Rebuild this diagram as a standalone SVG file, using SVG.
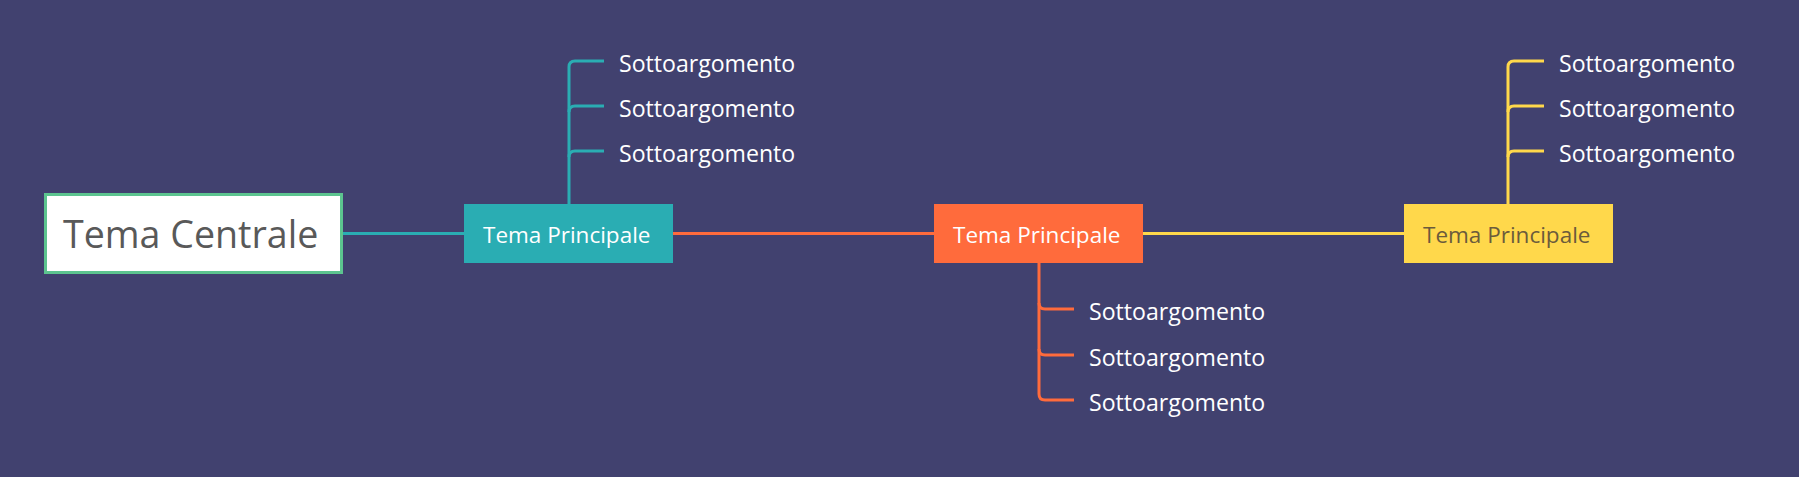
<svg xmlns="http://www.w3.org/2000/svg" width="1799" height="477" viewBox="0 0 1799 477">
<style>
.bg{fill:#41416f}
.ln{fill:none;stroke-width:3}
.teal{stroke:#2aadb3}
.orange{stroke:#ff6b3c}
.yellow{stroke:#ffd84b}
.main{font-family:"Open Sans","Noto Sans",sans-serif;font-size:22.5px}
.sub{font-family:"Open Sans","Noto Sans",sans-serif;font-size:23.1px;fill:#ffffff}
.center{font-family:"Open Sans","Noto Sans",sans-serif;font-size:37.6px;fill:#595959}
</style>
<rect class="bg" x="0" y="0" width="1799" height="477"/>
<g id="connectors">
<path class="ln teal" d="M343,233.5 H464"/>
<path class="ln orange" d="M673,233.5 H934"/>
<path class="ln yellow" d="M1143,233.5 H1404"/>
<path class="ln teal" d="M569,204 V67 Q569,61 575,61 H604"/>
<path class="ln teal" d="M569,112 Q569,106 575,106 H604"/>
<path class="ln teal" d="M569,157 Q569,151 575,151 H604"/>
<path class="ln orange" d="M1039,263 V394 Q1039,400 1045,400 H1074"/>
<path class="ln orange" d="M1039,303 Q1039,309 1045,309 H1074"/>
<path class="ln orange" d="M1039,349 Q1039,355 1045,355 H1074"/>
<path class="ln yellow" d="M1508,204 V67 Q1508,61 1514,61 H1544"/>
<path class="ln yellow" d="M1508,112 Q1508,106 1514,106 H1544"/>
<path class="ln yellow" d="M1508,157 Q1508,151 1514,151 H1544"/>
</g>
<g id="central">
<rect x="45.5" y="194.5" width="296" height="78" fill="#ffffff" stroke="#5cc48f" stroke-width="3"/>
<text class="center" x="63" y="247.5">Tema Centrale</text>
</g>
<g id="main1">
<rect x="464" y="204" width="209" height="59" fill="#2aadb3"/>
<text class="main" x="483" y="243" fill="#ffffff">Tema Principale</text>
</g>
<g id="main2">
<rect x="934" y="204" width="209" height="59" fill="#ff6b3c"/>
<text class="main" x="953" y="243" fill="#ffffff">Tema Principale</text>
</g>
<g id="main3">
<rect x="1404" y="204" width="209" height="59" fill="#ffd84b"/>
<text class="main" x="1423" y="243" fill="#6b5b3c">Tema Principale</text>
</g>
<g id="sub1a"><text class="sub" x="619" y="71.5">Sottoargomento</text></g>
<g id="sub1b"><text class="sub" x="619" y="116.5">Sottoargomento</text></g>
<g id="sub1c"><text class="sub" x="619" y="161.5">Sottoargomento</text></g>
<g id="sub2a"><text class="sub" x="1089" y="319.5">Sottoargomento</text></g>
<g id="sub2b"><text class="sub" x="1089" y="365.5">Sottoargomento</text></g>
<g id="sub2c"><text class="sub" x="1089" y="410.5">Sottoargomento</text></g>
<g id="sub3a"><text class="sub" x="1559" y="71.5">Sottoargomento</text></g>
<g id="sub3b"><text class="sub" x="1559" y="116.5">Sottoargomento</text></g>
<g id="sub3c"><text class="sub" x="1559" y="161.5">Sottoargomento</text></g>
</svg>
